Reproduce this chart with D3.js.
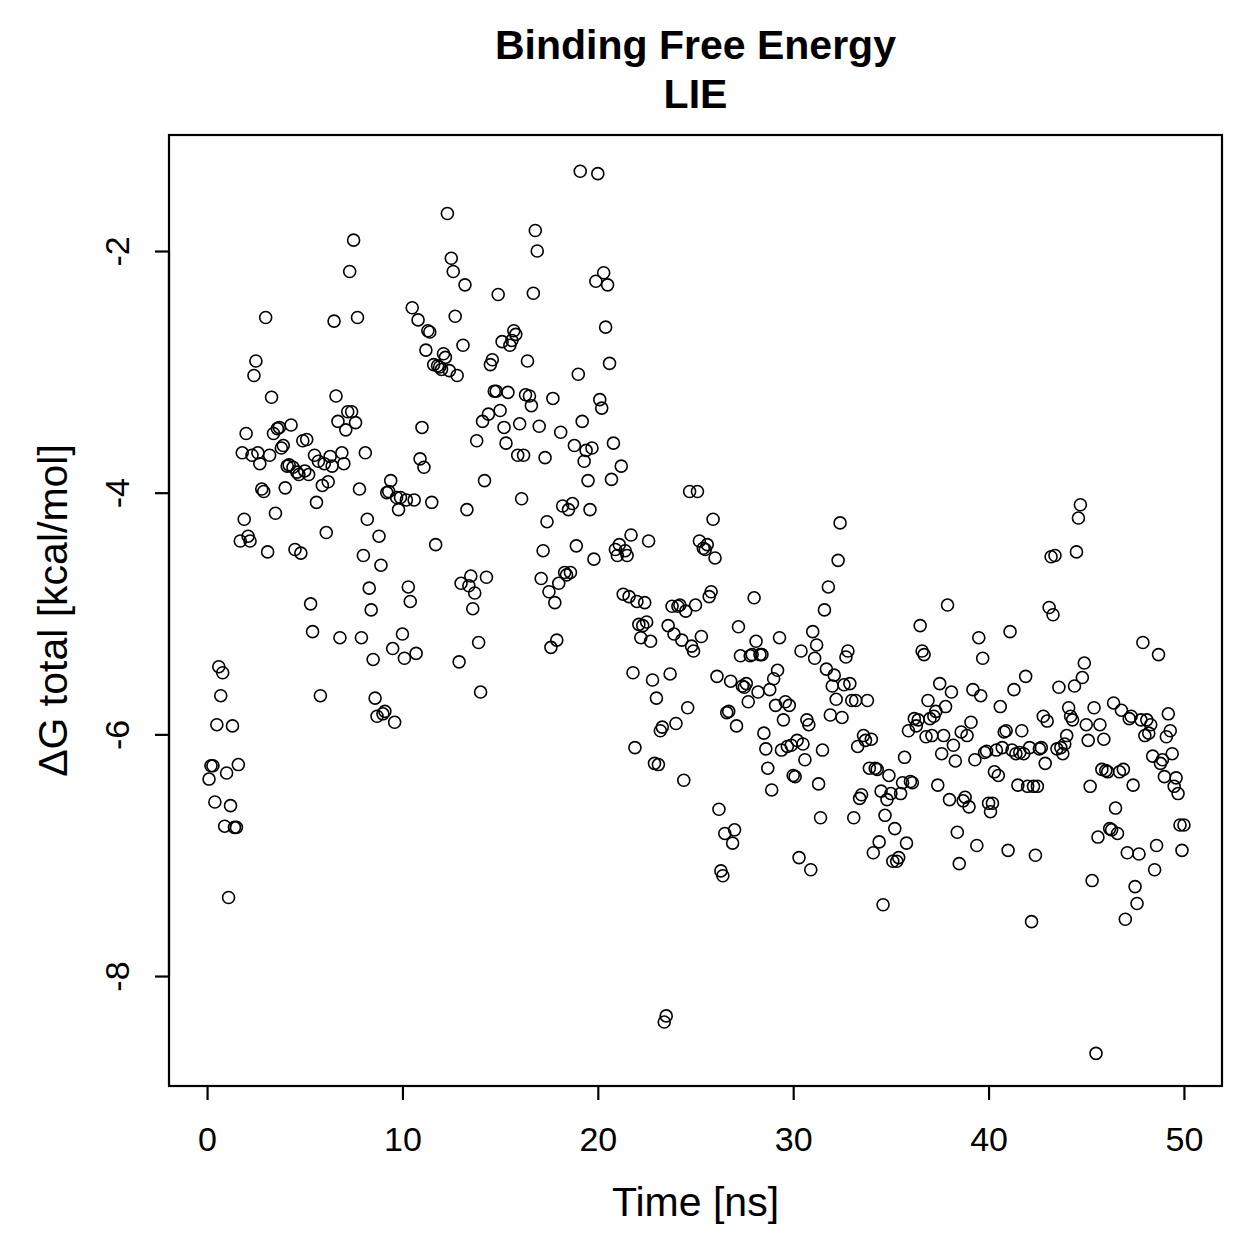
<!DOCTYPE html>
<html>
<head>
<meta charset="utf-8">
<script src="https://cdn.jsdelivr.net/npm/d3@7"></script>
<style>
body{margin:0;background:#fff;}
text{font-family:"Liberation Sans",Arial,sans-serif;fill:#000;}
</style>
</head>
<body>
<div id="chart"></div>
<script>
// time points [ns]
var time=[
0.1,0.2,0.3,0.4,0.5,0.6,0.7,0.8,0.9,1.0,1.1,1.2,1.3,1.4,1.5,1.6,1.7,1.8,1.9,2.0,
2.1,2.2,2.3,2.4,2.5,2.6,2.7,2.8,2.9,3.0,3.1,3.2,3.3,3.4,3.5,3.6,3.7,3.8,3.9,4.0,
4.1,4.2,4.3,4.4,4.5,4.6,4.7,4.8,4.9,5.0,5.1,5.2,5.3,5.4,5.5,5.6,5.7,5.8,5.9,6.0,
6.1,6.2,6.3,6.4,6.5,6.6,6.7,6.8,6.9,7.0,7.1,7.2,7.3,7.4,7.5,7.6,7.7,7.8,7.9,8.0,
8.1,8.2,8.3,8.4,8.5,8.6,8.7,8.8,8.9,9.0,9.1,9.2,9.3,9.4,9.5,9.6,9.7,9.8,9.9,10.0,
10.1,10.2,10.3,10.4,10.5,10.6,10.7,10.8,10.9,11.0,11.1,11.2,11.3,11.4,11.5,11.6,11.7,11.8,11.9,12.0,
12.1,12.2,12.3,12.4,12.5,12.6,12.7,12.8,12.9,13.0,13.1,13.2,13.3,13.4,13.5,13.6,13.7,13.8,13.9,14.0,
14.1,14.2,14.3,14.4,14.5,14.6,14.7,14.8,14.9,15.0,15.1,15.2,15.3,15.4,15.5,15.6,15.7,15.8,15.9,16.0,
16.1,16.2,16.3,16.4,16.5,16.6,16.7,16.8,16.9,17.0,17.1,17.2,17.3,17.4,17.5,17.6,17.7,17.8,17.9,18.0,
18.1,18.2,18.3,18.4,18.5,18.6,18.7,18.8,18.9,19.0,19.1,19.2,19.3,19.4,19.5,19.6,19.7,19.8,19.9,20.0,
20.1,20.2,20.3,20.4,20.5,20.6,20.7,20.8,20.9,21.0,21.1,21.2,21.3,21.4,21.5,21.6,21.7,21.8,21.9,22.0,
22.1,22.2,22.3,22.4,22.5,22.6,22.7,22.8,22.9,23.0,23.1,23.2,23.3,23.4,23.5,23.6,23.7,23.8,23.9,24.0,
24.1,24.2,24.3,24.4,24.5,24.6,24.7,24.8,24.9,25.0,25.1,25.2,25.3,25.4,25.5,25.6,25.7,25.8,25.9,26.0,
26.1,26.2,26.3,26.4,26.5,26.6,26.7,26.8,26.9,27.0,27.1,27.2,27.3,27.4,27.5,27.6,27.7,27.8,27.9,28.0,
28.1,28.2,28.3,28.4,28.5,28.6,28.7,28.8,28.9,29.0,29.1,29.2,29.3,29.4,29.5,29.6,29.7,29.8,29.9,30.0,
30.1,30.2,30.3,30.4,30.5,30.6,30.7,30.8,30.9,31.0,31.1,31.2,31.3,31.4,31.5,31.6,31.7,31.8,31.9,32.0,
32.1,32.2,32.3,32.4,32.5,32.6,32.7,32.8,32.9,33.0,33.1,33.2,33.3,33.4,33.5,33.6,33.7,33.8,33.9,34.0,
34.1,34.2,34.3,34.4,34.5,34.6,34.7,34.8,34.9,35.0,35.1,35.2,35.3,35.4,35.5,35.6,35.7,35.8,35.9,36.0,
36.1,36.2,36.3,36.4,36.5,36.6,36.7,36.8,36.9,37.0,37.1,37.2,37.3,37.4,37.5,37.6,37.7,37.8,37.9,38.0,
38.1,38.2,38.3,38.4,38.5,38.6,38.7,38.8,38.9,39.0,39.1,39.2,39.3,39.4,39.5,39.6,39.7,39.8,39.9,40.0,
40.1,40.2,40.3,40.4,40.5,40.6,40.7,40.8,40.9,41.0,41.1,41.2,41.3,41.4,41.5,41.6,41.7,41.8,41.9,42.0,
42.1,42.2,42.3,42.4,42.5,42.6,42.7,42.8,42.9,43.0,43.1,43.2,43.3,43.4,43.5,43.6,43.7,43.8,43.9,44.0,
44.1,44.2,44.3,44.4,44.5,44.6,44.7,44.8,44.9,45.0,45.1,45.2,45.3,45.4,45.5,45.6,45.7,45.8,45.9,46.0,
46.1,46.2,46.3,46.4,46.5,46.6,46.7,46.8,46.9,47.0,47.1,47.2,47.3,47.4,47.5,47.6,47.7,47.8,47.9,48.0,
48.1,48.2,48.3,48.4,48.5,48.6,48.7,48.8,48.9,49.0,49.1,49.2,49.3,49.4,49.5,49.6,49.7,49.8,49.9,50.0
];
// dG total [kcal/mol]
var dG=[
-6.37,-6.26,-6.26,-6.56,-5.92,-5.44,-5.68,-5.49,-6.76,-6.32,
-7.35,-6.59,-5.93,-6.77,-6.77,-6.25,-4.40,-3.67,-4.22,-3.51,
-4.36,-4.40,-3.69,-3.03,-2.91,-3.67,-3.76,-3.97,-3.99,-2.55,
-4.49,-3.69,-3.21,-3.51,-4.17,-3.47,-3.46,-3.63,-3.61,-3.96,
-3.78,-3.77,-3.44,-3.79,-4.47,-3.83,
-3.85,-4.50,-3.57,-3.82,-3.56,-3.85,-4.92,-5.15,-3.69,-4.08,
-3.74,-5.68,-3.94,-3.76,-4.33,-3.91,-3.70,-3.78,-2.58,-3.20,
-3.41,-5.20,-3.67,-3.76,-3.48,-3.33,-2.17,-3.33,-1.91,-3.42,
-2.55,-3.97,-5.20,-4.52,-3.67,-4.22,-4.79,-4.97,-5.38,-5.70,
-5.85,-4.36,-4.60,-5.83,-5.81,-4.00,
-3.99,-3.90,-5.29,-5.90,-4.04,-4.14,-4.04,-5.17,-5.37,-4.06,
-4.78,-4.90,-2.47,-4.06,-5.33,-2.57,-3.72,-3.46,-3.79,-2.82,
-2.66,-2.67,-4.08,-2.94,-4.43,-2.95,-2.96,-2.98,-2.85,-2.88,
-1.69,-2.99,-2.06,-2.17,-2.54,-3.03,-5.40,-4.75,-2.78,-2.28,
-4.14,-4.77,-4.69,-4.96,-4.83,-3.57,
-5.24,-5.65,-3.41,-3.90,-4.70,-3.35,-2.94,-2.90,-3.16,-3.16,
-2.36,-3.32,-2.75,-3.46,-3.59,-3.17,-2.78,-2.74,-2.66,-2.69,
-3.69,-3.43,-4.05,-3.69,-3.19,-2.91,-3.20,-3.28,-2.35,-1.83,
-2.00,-3.45,-4.71,-4.48,-3.71,-4.24,-4.82,-5.28,-3.22,-4.91,
-5.22,-4.75,-3.50,-4.11,-4.66,-4.68,
-4.14,-4.66,-4.09,-3.61,-4.44,-3.02,-1.34,-3.41,-3.74,-3.65,
-3.90,-4.14,-3.63,-4.55,-2.25,-1.36,-3.23,-3.30,-2.18,-2.63,
-2.28,-2.93,-3.89,-3.59,-4.47,-4.52,-4.43,-3.78,-4.84,-4.48,
-4.52,-4.86,-4.35,-5.49,-6.11,-4.90,-5.09,-5.20,-5.10,-4.91,
-5.07,-4.40,-5.23,-5.55,-6.24,-5.70,
-6.25,-5.97,-5.94,-8.38,-8.33,-5.10,-5.50,-4.94,-5.17,-5.91,
-4.94,-4.93,-5.22,-6.38,-4.98,-5.78,-3.99,-5.27,-5.31,-4.93,
-3.99,-4.40,-5.19,-4.46,-4.47,-4.43,-4.86,-4.82,-4.22,-4.54,
-5.52,-6.62,-7.13,-7.17,-6.82,-5.82,-5.81,-5.56,-6.90,-6.79,
-5.93,-5.11,-5.35,-5.60,-5.61,-5.58,
-5.73,-5.35,-5.34,-4.87,-5.23,-5.65,-5.34,-5.34,-5.99,-6.12,
-6.28,-5.63,-6.46,-5.54,-5.76,-5.47,-5.20,-6.13,-5.88,-5.73,
-6.10,-5.76,-6.09,-6.34,-6.35,-6.05,-7.02,-5.31,-6.08,-6.21,
-5.88,-5.92,-7.12,-5.15,-5.37,-5.26,-6.41,-6.69,-6.13,-4.97,
-5.46,-4.78,-5.84,-5.60,-5.51,-5.71,
-4.56,-4.25,-5.86,-5.59,-5.36,-5.31,-5.58,-5.72,-6.69,-5.72,
-6.10,-6.53,-6.50,-6.01,-6.05,-5.72,-6.28,-6.04,-6.98,-6.28,
-6.29,-6.89,-6.47,-7.41,-6.67,-6.54,-6.34,-6.49,-7.05,-6.78,
-7.05,-7.02,-6.49,-6.40,-6.19,-6.90,-5.97,-6.39,-6.40,-5.87,
-5.93,-5.88,-5.10,-5.31,-5.34,-6.02,
-5.72,-5.87,-6.01,-5.85,-5.81,-6.42,-5.58,-6.16,-6.01,-5.77,
-4.93,-6.54,-5.65,-6.09,-6.22,-6.81,-7.07,-5.98,-6.55,-6.52,
-6.01,-6.60,-5.90,-5.63,-6.21,-6.92,-5.20,-5.68,-5.37,-6.15,
-6.14,-6.57,-6.64,-6.57,-6.31,-6.13,-6.34,-5.77,-6.11,-5.98,
-5.97,-6.96,-5.15,-6.13,-5.63,-6.16,
-6.42,-6.15,-5.97,-6.16,-5.52,-6.43,-6.11,-7.55,-6.43,-7.00,
-6.43,-6.12,-6.11,-5.85,-6.24,-5.89,-4.95,-4.53,-5.01,-4.52,
-6.12,-5.61,-6.11,-6.16,-6.08,-6.01,-5.78,-5.85,-5.88,-5.60,
-4.49,-4.21,-4.10,-5.53,-5.41,-5.92,-6.05,-6.43,-7.21,-5.78,
-8.64,-6.85,-5.92,-6.29,-6.04,-6.30,
-6.31,-6.78,-6.79,-5.74,-6.61,-6.82,-6.31,-5.80,-6.29,-7.53,
-6.98,-5.87,-5.85,-6.42,-7.26,-7.40,-6.99,-5.88,-5.24,-6.01,
-5.88,-5.99,-5.92,-6.18,-7.12,-6.92,-5.34,-6.24,-6.21,-6.35,-6.02,
-5.83,-5.97,-6.16,-6.43,-6.36,-6.49,-6.75,-6.96,-6.75
];
var xTicks=[0,10,20,30,40,50];
var yTicks=[-8,-6,-4,-2];
var titleLines=["Binding Free Energy","LIE"];

var W=1259,H=1259;
var box={left:169,right:1222,top:135,bottom:1086};

var svg=d3.select("#chart").append("svg")
	.attr("width",W)
	.attr("height",H);

var x=d3.scaleLinear().domain([-2,52]).range([168,1223]);
var y=d3.scaleLinear().domain([-8.91,-1.04]).range([1086,135]);

var pts=time.map(function(t,i){return {t:t,v:dG[i]};});

// points
svg.append("g").selectAll("circle")
	.data(pts)
	.enter()
	.append("circle")
	.attr("cx",function(d){return x(d.t);})
	.attr("cy",function(d){return y(d.v);})
	.attr("r",6)
	.attr("fill","none")
	.attr("stroke","#000")
	.attr("stroke-width",1.6);

// box
svg.append("rect")
	.attr("x",box.left)
	.attr("y",box.top)
	.attr("width",box.right-box.left)
	.attr("height",box.bottom-box.top)
	.attr("fill","none")
	.attr("stroke","#000")
	.attr("stroke-width",2.2);

// x axis
var xAxis=d3.axisBottom(x).tickValues(xTicks).tickSize(14).tickPadding(27).tickFormat(function(d){return String(d);});
var gx=svg.append("g")
	.attr("transform","translate(0,"+box.bottom+")")
	.call(xAxis);
gx.select(".domain").attr("d","M"+x(0)+",0H"+x(50)).attr("stroke-width",2.2);
gx.selectAll(".tick line").attr("stroke-width",2.2);
gx.selectAll("text").attr("font-size",34).style("font-family","Liberation Sans, Arial, sans-serif");

// y axis
var yAxis=d3.axisLeft(y).tickValues(yTicks).tickSize(14).tickPadding(10).tickFormat(function(d){return String(d);});
var gy=svg.append("g")
	.attr("transform","translate("+box.left+",0)")
	.call(yAxis);
gy.select(".domain").attr("d","M0,"+y(-8)+"V"+y(-2)).attr("stroke-width",2.2);
gy.selectAll(".tick line").attr("stroke-width",2.2);
gy.selectAll("text")
	.attr("font-size",34)
	.style("font-family","Liberation Sans, Arial, sans-serif")
	.attr("text-anchor","middle")
	.attr("dy",0)
	.attr("x",0)
	.attr("transform","translate(-40,0) rotate(-90)");

// titles
svg.selectAll(".title")
	.data(titleLines)
	.enter()
	.append("text")
	.attr("class","title")
	.attr("x",(box.left+box.right)/2)
	.attr("y",function(d,i){return 59+i*49;})
	.attr("text-anchor","middle")
	.attr("font-size",41)
	.attr("font-weight","bold")
	.text(function(d){return d;});

svg.append("text")
	.attr("x",(box.left+box.right)/2)
	.attr("y",1216)
	.attr("text-anchor","middle")
	.attr("font-size",41)
	.text("Time [ns]");

svg.append("text")
	.attr("transform","translate(67,"+((box.top+box.bottom)/2)+") rotate(-90)")
	.attr("text-anchor","middle")
	.attr("font-size",41)
	.text("ΔG total [kcal/mol]");
</script>
</body>
</html>
